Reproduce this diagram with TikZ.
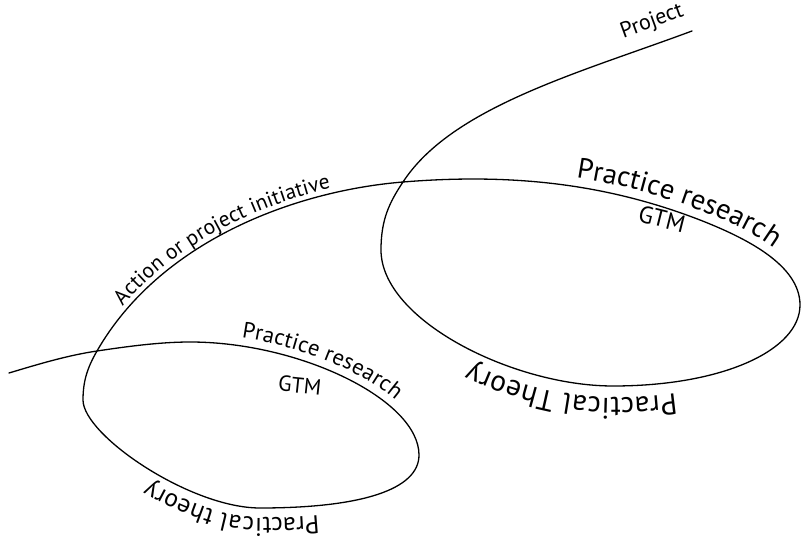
\documentclass[tikz,border=0pt]{standalone}
\usepackage{fontspec}
\setmainfont{PT Sans}
\usetikzlibrary{decorations.text}
\begin{document}
\begin{tikzpicture}[x=1pt,y=-1pt,
  curve/.style={line width=1.3pt, line cap=round},
  lbl/.style={font=\fontsize{#1}{#1}\selectfont, inner sep=0pt, anchor=base},
  along/.style={decorate, decoration={text along path, #1}}]
\useasboundingbox (0,0) rectangle (801,537);
% key points of the spiral
\coordinate (s0) at (9,373);
\coordinate (x1) at (97,351);
\coordinate (t1) at (190,342);
\coordinate (r1) at (419,455);
\coordinate (b1) at (260,508);
\coordinate (l1) at (83,400);
\coordinate (x2) at (403,182);
\coordinate (q2) at (700,220);
\coordinate (r2) at (800,305);
\coordinate (b2) at (613,386);
\coordinate (l2) at (381,250);
\coordinate (e2) at (692,31);
% main spiral curve
\draw[curve] (s0) .. controls (39,364) and (67,355.5) .. (x1)
 .. controls (127,346.5) and (160,342) .. (t1)
 .. controls (300,342) and (419,400) .. (r1)
 .. controls (419,490) and (360,508) .. (b1)
 .. controls (190,508) and (83,435) .. (l1)
 .. controls (83,380) and (88,366.7) .. (x1)
 .. controls (159.5,242) and (293,191) .. (x2)
 .. controls (513,173) and (607,184) .. (q2)
 .. controls (746,238) and (800,265) .. (r2)
 .. controls (800,350) and (723,386) .. (b2)
 .. controls (513,386) and (381,320) .. (l2)
 .. controls (381,220) and (389,203) .. (x2)
 .. controls (452,107) and (579,73) .. (e2);
% curved labels
\path[along={text={|\fontsize{21.5}{21.5}\selectfont|Action or project initiative}, text align={left indent=51pt}, raise=5pt}]
 (x1) .. controls (159.5,242) and (293,191) .. (x2) .. controls (513,173) and (607,184) .. (q2);
\path[along={text={|\fontsize{28.5}{28.5}\selectfont|Practice research}, text align={left indent=172pt}, raise=9pt}]
 (x2) .. controls (513,173) and (607,184) .. (q2) .. controls (746,238) and (800,265) .. (r2) .. controls (800,350) and (723,386) .. (b2);
\path[along={text={|\fontsize{22.5}{22.5}\selectfont|Practice research}, text align={left indent=144pt}, raise=8pt}]
 (x1) .. controls (127,346.5) and (160,342) .. (t1) .. controls (300,342) and (419,400) .. (r1) .. controls (419,490) and (360,508) .. (b1);
\path[along={text={|\fontsize{29.5}{29.5}\selectfont|Practical Theory}, text align={left indent=158pt}, raise=12pt}]
 (r2) .. controls (800,350) and (723,386) .. (b2) .. controls (513,386) and (381,320) .. (l2);
\path[along={text={|\fontsize{25.5}{25.5}\selectfont|Practical theory}, text align={left indent=122pt}, raise=10pt}]
 (r1) .. controls (419,490) and (360,508) .. (b1) .. controls (190,508) and (83,435) .. (l1) .. controls (83,380) and (88,366.7) .. (x1);
% straight labels
\node[lbl=22, rotate=20] (project) at (654,27) {Project};
\node[lbl=24, rotate=-14] (gtmbig) at (660,227) {GTM};
\node[lbl=22, rotate=-6] (gtmsmall) at (299,393) {GTM};
\end{tikzpicture}
\end{document}
